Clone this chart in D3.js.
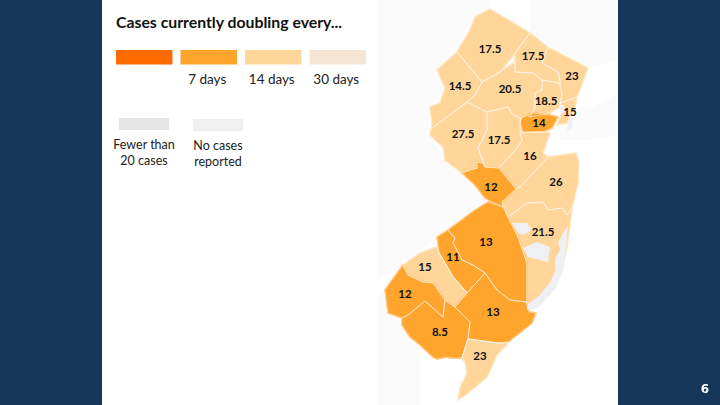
<!DOCTYPE html>
<html>
<head>
<meta charset="utf-8">
<script src="https://cdn.jsdelivr.net/npm/d3@7"></script>
<style>
  html, body { margin: 0; padding: 0; background: #15375a; }
  svg { display: block; filter: blur(0.3px); }
  text { font-family: Lato, "Open Sans", sans-serif; }
</style>
</head>
<body>
<svg id="chart" width="720" height="405"></svg>
<script>
// doubling time per county
const counties = ['Sussex', 'Warren', 'Morris', 'Passaic', 'Bergen', 'Essex', 'Hudson', 'Union',
  'Hunterdon', 'Somerset', 'Middlesex', 'Monmouth', 'Mercer', 'Ocean', 'Burlington', 'Camden',
  'Gloucester', 'Salem', 'Atlantic', 'Cumberland', 'Cape May'];
const doubling = [17.5, 14.5, 20.5, 17.5, 23, 18.5, 15, 14, 27.5, 17.5, 16, 26, 12, 21.5, 13, 11, 15, 12, 13, 8.5, 23];
const labelAt = [[490,49],[460,86],[510,89],[533,56],[572,76],[546,101],[570,112],[539,123],
  [463,134],[499,140],[530,156],[556,182],[491,187],[543,232],[486,242],[453,257],
  [425,267],[405,294],[493,312],[440,332],[480,356]];

const outlines = [
  [[490,9],[530,33],[515,53],[500,72],[482,82],[457,52],[470,30],[475,17]],
  [[457,52],[437,70],[445,88],[440,103],[430,107],[432,123],[431,129],[467,102],[475,95],[482,82]],
  [[482,82],[500,72],[515,62],[515,72],[533,73],[542,80],[542,90],[535,93],[535,107],[530,117],[527,115],[520,118],[513,115],[508,107],[487,112],[467,102],[475,95]],
  [[530,33],[548,47],[542,63],[558,72],[561,83],[542,80],[533,73],[515,72],[515,62],[515,53]],
  [[548,47],[588,68],[577,97],[560,103],[562,93],[558,72],[542,63]],
  [[542,80],[558,83],[562,93],[560,107],[550,113],[530,117],[535,107],[535,93],[542,90]],
  [[560,103],[577,97],[575,107],[567,123],[557,125],[562,113]],
  [[521,118],[533,113],[550,115],[558,117],[552,128],[543,132],[523,132],[520,123]],
  [[431,129],[467,102],[487,112],[487,130],[478,148],[485,167],[483,163],[477,162],[477,168],[470,170],[462,173],[445,160],[443,147],[430,135]],
  [[487,112],[508,107],[513,115],[521,118],[520,123],[520,133],[522,140],[517,148],[499,168],[485,167],[478,148],[487,130]],
  [[520,133],[543,132],[550,133],[543,153],[548,157],[520,187],[516,189],[499,168],[517,148],[522,140]],
  [[548,157],[576,153],[579,163],[578,183],[572,208],[567,215],[562,208],[548,210],[543,202],[527,203],[508,217],[502,202],[516,189],[520,187]],
  [[462,173],[470,170],[477,168],[477,162],[483,163],[485,167],[499,168],[516,189],[502,202],[503,207],[490,201],[485,198],[475,185]],
  [[508,217],[527,203],[543,202],[548,210],[562,208],[567,215],[572,208],[570,225],[567,247],[562,268],[556,285],[537,305],[527,307],[527,263],[518,237]],
  [[488,202],[503,207],[508,217],[518,237],[527,263],[527,302],[525,302],[510,300],[497,290],[485,273],[473,265],[462,260],[453,243],[455,238],[448,230],[475,210]],
  [[437,237],[448,230],[455,238],[453,243],[462,260],[473,265],[485,273],[467,293],[453,277],[445,263],[439,253]],
  [[403,265],[420,253],[437,247],[439,253],[445,263],[453,277],[467,293],[455,307],[445,300],[433,283],[423,282],[408,275]],
  [[403,265],[408,275],[423,282],[433,283],[445,300],[443,317],[425,301],[408,315],[402,318],[388,313],[385,290]],
  [[455,307],[467,293],[485,273],[497,290],[510,300],[527,302],[529,312],[536,313],[532,323],[517,335],[508,342],[497,343],[468,339],[470,322]],
  [[402,318],[408,315],[425,301],[443,317],[445,300],[455,307],[470,322],[468,339],[462,358],[450,358],[447,357],[437,359],[433,357],[420,345],[410,337],[402,325]],
  [[468,339],[497,343],[508,343],[497,355],[487,377],[468,393],[458,400],[460,388],[467,373],[465,362],[462,358]]
];
// lagoons and river mouths on top of the counties, in map units
const water = [
  [[512,223],[527,223],[532,230],[523,235],[518,233]],
  [[523,248],[537,242],[550,247],[548,262],[528,257]],
  [[568,225],[562,235],[558,242],[560,250],[555,258],[555,272],[550,282],[540,295],[528,304],[527,310],[538,308],[556,288],[564,268],[566,248]],
  [[559,105],[564,105],[565,112],[561,114]],
  [[569,118],[573,117],[572,128],[567,131]]
];
// faint surrounding land, in map units
const land = [
  [[377,0],[490,0],[490,9],[475,17],[470,30],[457,52],[437,70],[445,88],[430,107],[430,135],[445,160],[475,185],[488,202],[437,237],[403,265],[377,280]],
  [[377,300],[385,290],[388,313],[402,325],[420,345],[420,405],[377,405]],
  [[530,0],[617,0],[617,60],[588,68],[530,33]],
  [[560,128],[572,120],[580,105],[590,108],[617,95],[617,135],[590,140],[560,140]]
];

const legendSteps = [3, 10, 20, 30];
const legendLabels = ['', '7 days', '14 days', '30 days'];
const greyLabels = [['Fewer than', '20 cases'], ['No cases', 'reported']];
const greyColors = ['#e5e5e5', '#f0f0f0'];

const color = d3.scaleThreshold().domain([7, 14.25, 30]).range(['#ff6a00', '#ffa52d', '#ffd599', '#f5e6d3']);

const svg = d3.select('#chart');
const x = d3.scaleLinear().domain([377, 617]).range([377, 617]);
const y = d3.scaleLinear().domain([0, 405]).range([0, 405]);
const line = d3.line().x(d => x(d[0])).y(d => y(d[1])).curve(d3.curveLinearClosed);

svg.append('rect').attr('x', 102).attr('y', 0).attr('width', 516).attr('height', 405).attr('fill', '#fff');

svg.selectAll('.land').data(land).join('path').attr('class', 'land')
  .attr('d', line).attr('fill', '#fbfbfc');

// own-colour stroke first so traced seams do not leave white slivers
svg.selectAll('.county').data(outlines).join('path').attr('class', 'county')
  .attr('d', line)
  .attr('fill', (d, i) => color(doubling[i]))
  .attr('stroke', (d, i) => color(doubling[i])).attr('stroke-width', 1.4).attr('stroke-linejoin', 'round');

svg.selectAll('.border').data(outlines).join('path').attr('class', 'border')
  .attr('d', line)
  .attr('fill', 'none')
  .attr('stroke', '#fff').attr('stroke-width', 0.7).attr('stroke-opacity', 0.75).attr('stroke-linejoin', 'round');

svg.selectAll('.water').data(water).join('path').attr('class', 'water')
  .attr('d', line).attr('fill', '#eff0f3');

svg.selectAll('.value').data(doubling).join('text').attr('class', 'value')
  .attr('x', (d, i) => x(labelAt[i][0])).attr('y', (d, i) => y(labelAt[i][1]))
  .attr('text-anchor', 'middle').attr('dy', '0.35em')
  .attr('font-size', 11.5).attr('font-weight', 700).attr('fill', '#111')
  .text(d => d);

svg.append('text').attr('x', 116).attr('y', 28).attr('font-size', 15.8).attr('font-weight', 700).attr('fill', '#111')
  .text('Cases currently doubling every...');

const band = d3.scaleBand().domain(legendSteps).range([116, 366]).paddingInner(0.125);
svg.selectAll('.swatch').data(legendSteps).join('rect').attr('class', 'swatch')
  .attr('x', d => band(d)).attr('y', 50).attr('width', band.bandwidth()).attr('height', 14.5)
  .attr('fill', d => color(d));
svg.selectAll('.step').data(legendSteps).join('text').attr('class', 'step')
  .attr('x', d => band(d) + band.bandwidth() / 2 - 1.5).attr('y', 84)
  .attr('text-anchor', 'middle').attr('font-size', 13.5).attr('fill', '#222')
  .text((d, i) => legendLabels[i]);

const greyBand = d3.scaleBand().domain([0, 1]).range([119, 243]).paddingInner(0.324);
const greys = svg.selectAll('.grey').data(greyLabels).join('g').attr('class', 'grey')
  .attr('transform', (d, i) => `translate(${greyBand(i)},${118 + i})`);
greys.append('rect').attr('width', greyBand.bandwidth()).attr('height', 12).attr('fill', (d, i) => greyColors[i]);
greys.selectAll('text').data(d => d).join('text')
  .attr('x', greyBand.bandwidth() / 2).attr('y', (d, i) => 31 + i * 16)
  .attr('text-anchor', 'middle').attr('font-size', 12.5).attr('fill', '#222')
  .text(d => d);

svg.append('text').attr('x', 705).attr('y', 393).attr('text-anchor', 'middle')
  .style('font-family', '"DejaVu Sans", sans-serif')
  .attr('font-size', 12).attr('font-weight', 700).attr('fill', '#fff').text('6');
</script>
</body>
</html>
